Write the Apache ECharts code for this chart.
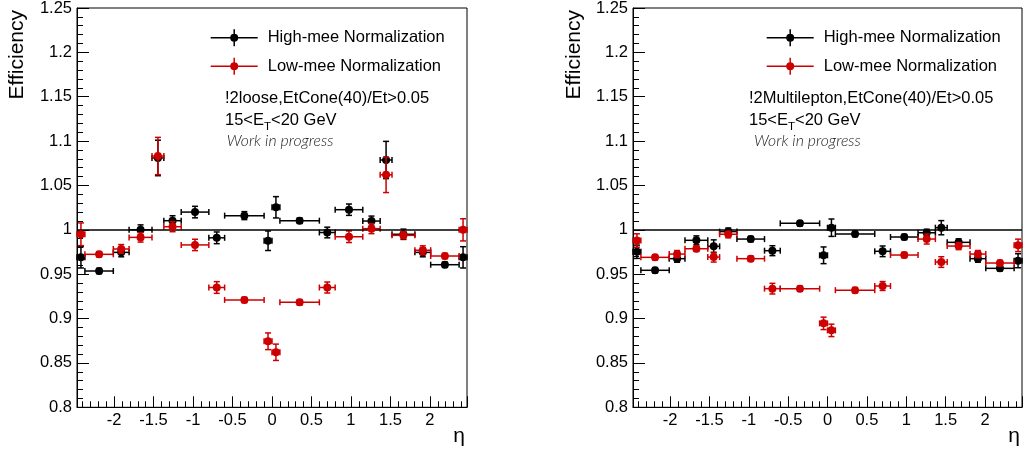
<!DOCTYPE html>
<html><head><meta charset="utf-8">
<script src="https://cdn.jsdelivr.net/npm/echarts@6/dist/echarts.min.js"></script>
<style>html,body{margin:0;padding:0;background:#fff}#c{width:1024px;height:450px}</style>
</head><body><div id="c"></div>
<script>
// eta bin edges (shared by all series)
const etaEdges = [-2.47,-2.37,-2.01,-1.81,-1.52,-1.37,-1.15,-0.8,-0.6,-0.1,0,0.1,0.6,0.8,1.15,1.37,1.52,1.81,2.01,2.37,2.47];

// Left panel: !2loose
const leftHigh    = [0.969,0.9536,0.9746,1.000,1.081,1.0103,1.020,0.991,1.016,0.9877,1.0254,1.0103,0.997,1.0227,1.0099,1.0787,0.995,0.9746,0.9607,0.969];
const leftHighErr = [0.012,0.003,0.005,0.0056,0.020,0.0056,0.0065,0.0066,0.0045,0.011,0.012,0.003,0.006,0.0064,0.0056,0.021,0.0058,0.005,0.003,0.012];
const leftLow     = [0.995,0.9724,0.9784,0.9915,1.0832,1.0035,0.983,0.935,0.921,0.8744,0.862,0.9183,0.935,0.9922,1.0013,1.062,0.9938,0.977,0.9705,1.000];
const leftLowErr  = [0.0128,0.003,0.005,0.0053,0.021,0.0056,0.0064,0.0066,0.003,0.0094,0.0092,0.003,0.0062,0.0065,0.0056,0.020,0.004,0.005,0.003,0.0125];

// Right panel: !2Multilepton
const rightHigh    = [0.9753,0.9544,0.9675,0.9882,0.9814,0.998,0.9896,0.9765,1.0073,0.9713,1.0024,0.9953,0.9758,0.9919,0.9967,1.0024,0.9859,0.9675,0.9566,0.9652];
const rightHighErr = [0.0075,0.003,0.004,0.005,0.0073,0.004,0.003,0.0056,0.003,0.0094,0.0098,0.003,0.006,0.003,0.004,0.008,0.004,0.004,0.003,0.0079];
const rightLow     = [0.988,0.969,0.9727,0.9787,0.9693,0.995,0.9675,0.9337,0.9337,0.8946,0.8867,0.932,0.9367,0.9716,0.9896,0.9637,0.9817,0.9727,0.9626,0.9825];
const rightLowErr  = [0.0075,0.003,0.004,0.003,0.0056,0.004,0.003,0.006,0.003,0.007,0.007,0.003,0.005,0.003,0.0056,0.006,0.004,0.004,0.003,0.007];

const legendNames = ['High-mee Normalization','Low-mee Normalization'];
const panelLabels = ['!2loose,EtCone(40)/Et>0.05','!2Multilepton,EtCone(40)/Et>0.05'];
const xName = 'η', yName = 'Efficiency';
const refLine = 1;

const FONT = 'Liberation Sans, Arial, sans-serif';
const BLACK = '#000000', RED = '#cc0000';

function pts(vals){ return vals.map((v,i)=>[(etaEdges[i]+etaEdges[i+1])/2, v]); }
function errs(vals, e){ return vals.map((v,i)=>[(etaEdges[i]+etaEdges[i+1])/2, v, etaEdges[i], etaEdges[i+1], e[i]]); }

function errRender(color){
  return function(params, api){
    const x=api.value(0), y=api.value(1), xl=api.value(2), xh=api.value(3), e=api.value(4);
    const pL=api.coord([xl,y]), pH=api.coord([xh,y]), pT=api.coord([x,y+e]), pB=api.coord([x,y-e]);
    const c=3, st={stroke:color, lineWidth:1.5, fill:null};
    const L=(x1,y1,x2,y2)=>({type:'line', shape:{x1,y1,x2,y2}, style:st});
    return {type:'group', children:[
      L(pL[0],pL[1],pH[0],pH[1]),
      L(pL[0],pL[1]-c,pL[0],pL[1]+c),
      L(pH[0],pH[1]-c,pH[0],pH[1]+c),
      L(pT[0],pT[1],pB[0],pB[1]),
      L(pT[0]-c,pT[1],pT[0]+c,pT[1]),
      L(pB[0]-c,pB[1],pB[0]+c,pB[1])
    ]};
  };
}

const grids = [{left:77, top:8, width:390, height:399.3}, {left:633, top:8, width:389, height:399.3}];

function xAxisFor(i){
  return {gridIndex:i, type:'value', min:-2.47, max:2.47, splitNumber:10,
    name:xName, nameLocation:'end', nameGap:0,
    nameTextStyle:{align:'right', verticalAlign:'top', padding:[18,2,0,0], fontSize:21, color:'#000', fontFamily:FONT},
    axisLine:{show:true, onZero:false, lineStyle:{color:'#000', width:1}},
    axisTick:{show:true, inside:true, length:11, lineStyle:{color:'#000', width:1}},
    minorTick:{show:true, splitNumber:5, length:6, lineStyle:{color:'#000', width:1}},
    splitLine:{show:false},
    axisLabel:{color:'#000', fontSize:16.5, margin:5, fontFamily:FONT, showMinLabel:false, showMaxLabel:false}
  };
}
function yAxisFor(i){
  return {gridIndex:i, type:'value', min:0.8, max:1.25, interval:0.05,
    axisLine:{show:true, onZero:false, lineStyle:{color:'#000', width:1}},
    axisTick:{show:true, inside:true, length:12, lineStyle:{color:'#000', width:1}},
    minorTick:{show:true, splitNumber:5, length:6, lineStyle:{color:'#000', width:1}},
    splitLine:{show:false},
    axisLabel:{color:'#000', fontSize:16.5, margin:5, fontFamily:FONT}
  };
}

const iconPath = 'path://M0,7.75L47,7.75L47,9.25L0,9.25Z M22.75,0L24.25,0L24.25,17L22.75,17Z M27.5,8.5A4,4 0 1,1 19.5,8.5A4,4 0 1,1 27.5,8.5Z';

function panelSeries(i, hi, hiE, lo, loE){
  return [
    {type:'custom', xAxisIndex:i, yAxisIndex:i, name:'hiErr'+i, renderItem:errRender(BLACK),
      encode:{x:0, y:1}, data:errs(hi,hiE), z:2, silent:true,
      markLine:{silent:true, symbol:['none','none'], label:{show:false}, animation:false,
        lineStyle:{color:'#000', width:1.5, type:'solid'}, data:[{yAxis:refLine}]}},
    {type:'scatter', xAxisIndex:i, yAxisIndex:i, name:legendNames[0], data:pts(hi),
      symbol:'circle', symbolSize:8, itemStyle:{color:BLACK, opacity:1}, z:3},
    {type:'custom', xAxisIndex:i, yAxisIndex:i, name:'loErr'+i, renderItem:errRender(RED),
      encode:{x:0, y:1}, data:errs(lo,loE), z:4, silent:true},
    {type:'scatter', xAxisIndex:i, yAxisIndex:i, name:legendNames[1], data:pts(lo),
      symbol:'circle', symbolSize:8, itemStyle:{color:RED, opacity:1}, z:5}
  ];
}

function legendFor(left){
  return {left:left, top:24.2, orient:'vertical', itemWidth:47, itemHeight:17, itemGap:11.6,
    selectedMode:false, icon:iconPath,
    textStyle:{fontSize:16.5, color:'#000', fontFamily:FONT, lineHeight:17, padding:[0,0,0,5]},
    data:legendNames};
}

function titlesFor(left, label, wipLeft){
  return [
    {left:left, top:88.7, padding:0, text:label,
      textStyle:{fontSize:16.5, fontWeight:'normal', color:'#000', fontFamily:FONT, lineHeight:20}},
    {left:left, top:110.5, padding:0, text:'15<E{s|T}<20 GeV',
      textStyle:{fontSize:16.5, fontWeight:'normal', color:'#000', fontFamily:FONT, lineHeight:20,
        rich:{s:{fontSize:11.5, lineHeight:14, padding:[12,0,0,0], color:'#000', fontFamily:FONT}}}},
    {left:wipLeft, top:131.5, padding:0, text:'Work in progress',
      textStyle:{fontSize:15.8, fontWeight:300, fontStyle:'italic', color:'#222', fontFamily:'Lato, DejaVu Sans, sans-serif', lineHeight:18}}
  ];
}

function yTitle(x){
  return {type:'text', x:x, y:10, rotation:Math.PI/2, silent:true,
    style:{text:yName, font:'21px Liberation Sans, Arial, sans-serif', fill:'#000',
      align:'right', verticalAlign:'middle', textAlign:'right', textVerticalAlign:'middle'}};
}

const chart = echarts.init(document.getElementById('c'), null, {renderer:'canvas'});
chart.setOption({
  animation:false,
  backgroundColor:'#fff',
  grid: grids.map(g=>Object.assign({show:true, borderColor:'#000', borderWidth:1, backgroundColor:'transparent', containLabel:false, outerBoundsMode:'none'}, g)),
  xAxis:[xAxisFor(0), xAxisFor(1)],
  yAxis:[yAxisFor(0), yAxisFor(1)],
  legend:[legendFor(205.7), legendFor(761.7)],
  title:[...titlesFor(225, panelLabels[0], 226.7), ...titlesFor(749, panelLabels[1], 754)],
  graphic:[yTitle(17), yTitle(574)],
  series:[...panelSeries(0,leftHigh,leftHighErr,leftLow,leftLowErr), ...panelSeries(1,rightHigh,rightHighErr,rightLow,rightLowErr)]
});
</script>
</body></html>
